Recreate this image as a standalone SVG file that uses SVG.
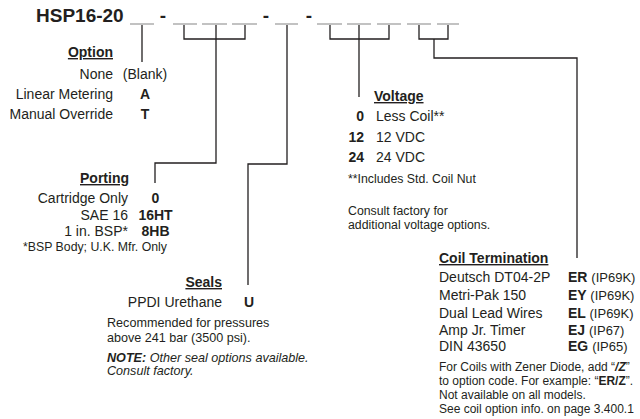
<svg xmlns="http://www.w3.org/2000/svg" width="640" height="419" viewBox="0 0 640 419">
<style>
text{font-family:"Liberation Sans",Arial,sans-serif;fill:#231f20}
.t{font-size:14px}
.s{font-size:12.3px}
.n{font-size:12.6px}
.cn{font-size:12px}
.b{font-weight:bold}
.h{font-size:14px;font-weight:bold;text-decoration:underline}
.ip{font-size:13px;font-weight:normal}
.r{text-anchor:end}
.m{text-anchor:middle}
.i{font-style:italic}
.u{stroke:#9a9a9a;stroke-width:1.2;fill:none}
.c{stroke:#231f20;stroke-width:1.3;fill:none}
</style>
<rect width="640" height="419" fill="#fff"/>
<g id="header">
<text x="36" y="22" font-size="19" class="b">HSP16-20</text>
<text x="163" y="22" font-size="19" class="b m">-</text>
<text x="266" y="22" font-size="19" class="b m">-</text>
<text x="309" y="22" font-size="19" class="b m">-</text>
<g class="u">
<line x1="130" y1="24" x2="154" y2="24"/>
<line x1="173" y1="24" x2="197" y2="24"/>
<line x1="202" y1="24" x2="227" y2="24"/>
<line x1="232" y1="24" x2="257" y2="24"/>
<line x1="275" y1="24" x2="298" y2="24"/>
<line x1="317" y1="24" x2="342" y2="24"/>
<line x1="347" y1="24" x2="371" y2="24"/>
<line x1="377" y1="24" x2="401" y2="24"/>
<line x1="407" y1="24" x2="431" y2="24"/>
<line x1="437" y1="24" x2="459" y2="24"/>
</g>
</g>
<g id="connectors" class="c">
<path d="M142,25 V62"/>
<path d="M184,25 V39 H245 V25"/>
<path d="M216,25 V163 H155 V183"/>
<path d="M287,25 V164 H248 V285"/>
<path d="M330,25 V39 H389 V25"/>
<path d="M359,25 V97"/>
<path d="M419,25 V39 H448 V25"/>
<path d="M434,39 V58 H577 V258"/>
</g>
<g id="option">
<text x="113" y="57" class="h r">Option</text>
<text x="113" y="79" class="t r">None</text>
<text x="145" y="79" class="t m">(Blank)</text>
<text x="113" y="99" class="t r">Linear Metering</text>
<text x="145" y="99" class="t b m">A</text>
<text x="113" y="119" class="t r">Manual Override</text>
<text x="145" y="119" class="t b m">T</text>
</g>
<g id="porting">
<text x="129" y="183" class="h r">Porting</text>
<text x="128" y="203" class="t r">Cartridge Only</text>
<text x="155.5" y="203" class="t b m">0</text>
<text x="128" y="220" class="t r">SAE 16</text>
<text x="155.5" y="220" class="t b m">16HT</text>
<text x="128" y="236" class="t r">1 in. BSP*</text>
<text x="155.5" y="236" class="t b m">8HB</text>
<text x="23" y="251" class="s">*BSP Body; U.K. Mfr. Only</text>
</g>
<g id="seals">
<text x="222" y="287" class="h r">Seals</text>
<text x="222" y="307" class="t r">PPDI Urethane</text>
<text x="249" y="307" class="t b m">U</text>
<text x="107" y="327" class="n">Recommended for pressures</text>
<text x="107" y="342" class="n">above 241 bar (3500 psi).</text>
<text x="107" y="362" class="n i"><tspan class="b">NOTE:</tspan>  Other seal options available.</text>
<text x="107" y="375" class="n i">Consult factory.</text>
</g>
<g id="voltage">
<text x="374" y="101" class="h">Voltage</text>
<text x="364" y="121" class="t b r">0</text>
<text x="376" y="121" class="t">Less Coil**</text>
<text x="364" y="142" class="t b r">12</text>
<text x="376" y="142" class="t">12 VDC</text>
<text x="364" y="162" class="t b r">24</text>
<text x="376" y="162" class="t">24 VDC</text>
<text x="348" y="183" class="s">**Includes Std. Coil Nut</text>
<text x="348" y="215" class="s">Consult factory for</text>
<text x="348" y="229" class="s">additional voltage options.</text>
</g>
<g id="coil-termination">
<text x="439" y="263" class="h">Coil Termination</text>
<text x="439" y="282" class="t">Deutsch DT04-2P</text>
<text x="568" y="282" class="t b">ER <tspan class="ip">(IP69K)</tspan></text>
<text x="439" y="300" class="t">Metri-Pak 150</text>
<text x="568" y="300" class="t b">EY <tspan class="ip">(IP69K)</tspan></text>
<text x="439" y="318" class="t">Dual Lead Wires</text>
<text x="568" y="318" class="t b">EL <tspan class="ip">(IP69K)</tspan></text>
<text x="439" y="335" class="t">Amp Jr. Timer</text>
<text x="568" y="335" class="t b">EJ <tspan class="ip">(IP67)</tspan></text>
<text x="439" y="351" class="t">DIN 43650</text>
<text x="568" y="351" class="t b">EG <tspan class="ip">(IP65)</tspan></text>
<text x="439" y="371" class="cn">For Coils with Zener Diode, add “<tspan class="b i">/Z</tspan>”</text>
<text x="439" y="385" class="cn">to option code. For example: “<tspan class="b">ER/Z</tspan>”.</text>
<text x="439" y="399" class="cn">Not available on all models.</text>
<text x="439" y="413" class="cn">See coil option info. on page 3.400.1</text>
</g>
</svg>
